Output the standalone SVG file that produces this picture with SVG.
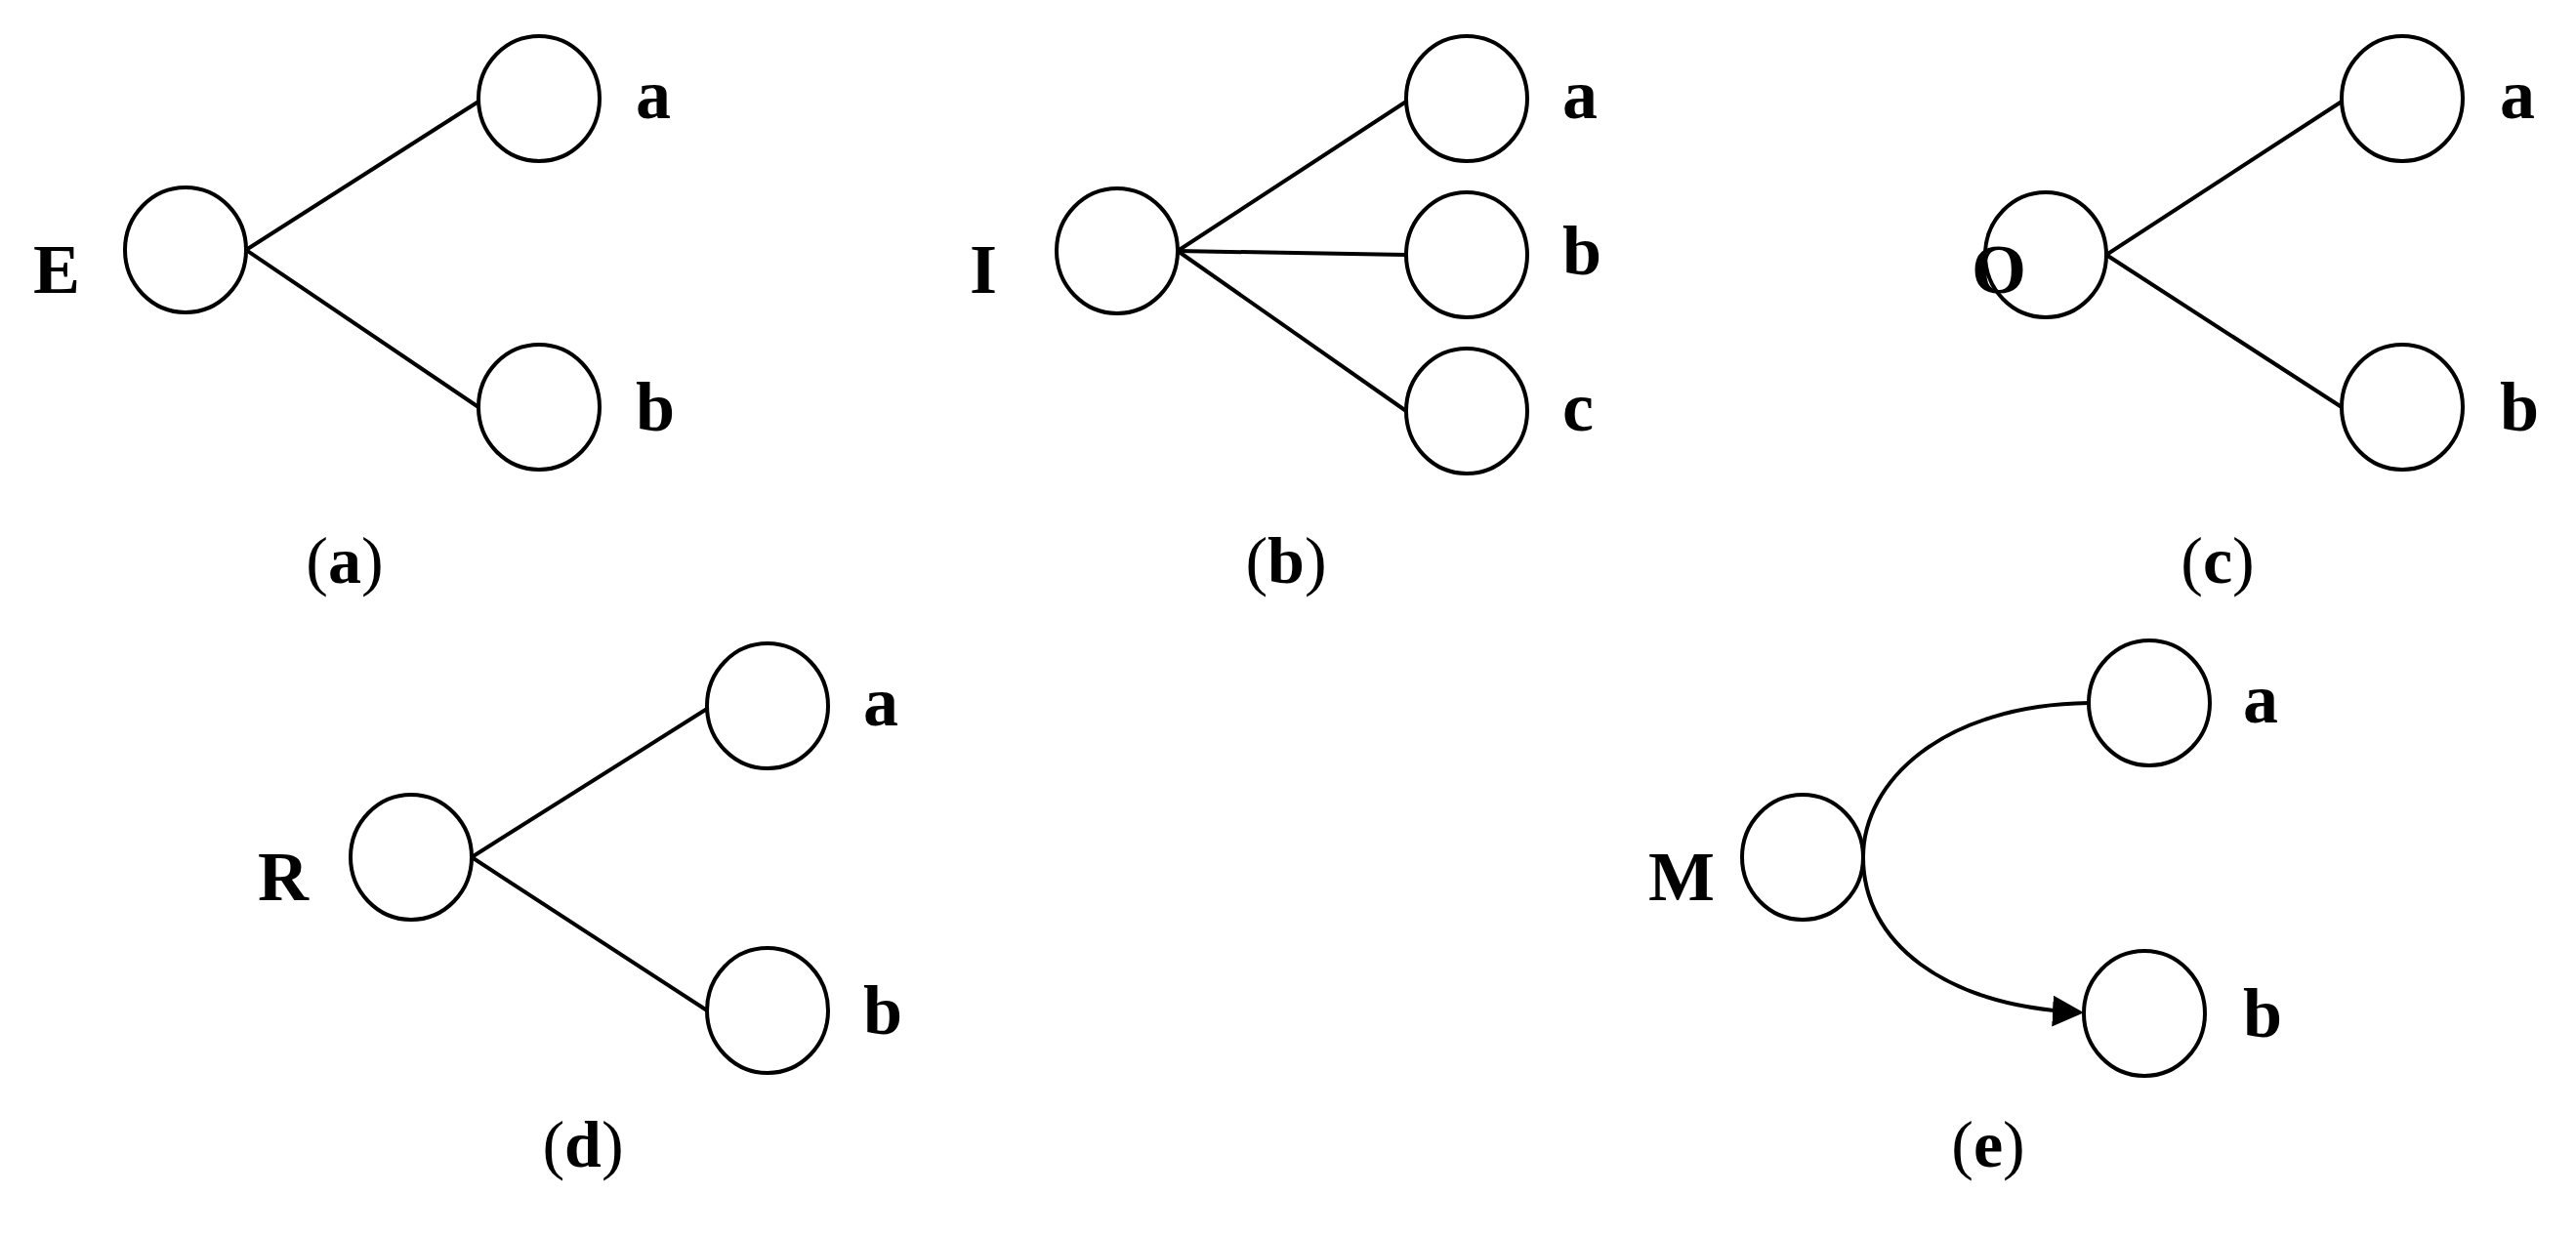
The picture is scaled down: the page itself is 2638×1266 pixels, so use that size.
<svg xmlns="http://www.w3.org/2000/svg" width="2638" height="1266" viewBox="0 0 2638 1266">
<style>
.n{fill:#fff;stroke:#000;stroke-width:4}
.e{stroke:#000;stroke-width:4;fill:none}
.t{font-family:"Liberation Serif",serif;font-weight:bold;font-size:72px;fill:#000}
.c{font-family:"Liberation Serif",serif;font-size:68px;fill:#000;text-anchor:middle}
</style>
<defs><marker id="ar" markerWidth="8" markerHeight="8" refX="7" refY="4" orient="auto" markerUnits="strokeWidth"><path d="M0,0 L8,4 L0,8 Z" fill="#000"/></marker></defs>
<g id="connectors">
<line class="e" x1="252" y1="256" x2="490" y2="104"/>
<line class="e" x1="252" y1="256" x2="490" y2="417"/>
<line class="e" x1="1206" y1="257" x2="1440" y2="104"/>
<line class="e" x1="1206" y1="257" x2="1440" y2="261"/>
<line class="e" x1="1206" y1="257" x2="1440" y2="421"/>
<line class="e" x1="2157" y1="261" x2="2398" y2="104"/>
<line class="e" x1="2157" y1="261" x2="2398" y2="417"/>
<line class="e" x1="483" y1="878" x2="724" y2="726"/>
<line class="e" x1="483" y1="878" x2="724" y2="1035"/>
<path class="e" d="M2139,720 C1990,722 1908,800 1908,878 C1908,965 1990,1030 2130,1037" marker-end="url(#ar)"/>
</g>
<g id="a"><ellipse class="n" cx="190" cy="256" rx="62" ry="64"/><ellipse class="n" cx="552" cy="101" rx="62" ry="64"/><ellipse class="n" cx="552" cy="417" rx="62" ry="64"/>
<text class="t" x="34" y="300">E</text><text class="t" x="651" y="121">a</text><text class="t" x="651" y="441">b</text><text class="c" x="353" y="597">(<tspan font-weight="bold">a</tspan>)</text></g>
<g id="b"><ellipse class="n" cx="1144" cy="257" rx="62" ry="64"/><ellipse class="n" cx="1502" cy="101" rx="62" ry="64"/><ellipse class="n" cx="1502" cy="261" rx="62" ry="64"/><ellipse class="n" cx="1502" cy="421" rx="62" ry="64"/>
<text class="t" x="993" y="300">I</text><text class="t" x="1600" y="121">a</text><text class="t" x="1600" y="281">b</text><text class="t" x="1600" y="441">c</text><text class="c" x="1317" y="597">(<tspan font-weight="bold">b</tspan>)</text></g>
<g id="c"><ellipse class="n" cx="2095" cy="261" rx="62" ry="64"/><ellipse class="n" cx="2460" cy="101" rx="62" ry="64"/><ellipse class="n" cx="2460" cy="417" rx="62" ry="64"/>
<text class="t" x="2019" y="300">O</text><text class="t" x="2560" y="121">a</text><text class="t" x="2560" y="441">b</text><text class="c" x="2271" y="597">(<tspan font-weight="bold">c</tspan>)</text></g>
<g id="d"><ellipse class="n" cx="421" cy="878" rx="62" ry="64"/><ellipse class="n" cx="786" cy="723" rx="62" ry="64"/><ellipse class="n" cx="786" cy="1035" rx="62" ry="64"/>
<text class="t" x="264" y="922">R</text><text class="t" x="884" y="743">a</text><text class="t" x="884" y="1059">b</text><text class="c" x="597" y="1195">(<tspan font-weight="bold">d</tspan>)</text></g>
<g id="e"><ellipse class="n" cx="1846" cy="878" rx="62" ry="64"/><ellipse class="n" cx="2201" cy="720" rx="62" ry="64"/><ellipse class="n" cx="2196" cy="1038" rx="62" ry="64"/>
<text class="t" x="1688" y="922">M</text><text class="t" x="2297" y="740">a</text><text class="t" x="2297" y="1062">b</text><text class="c" x="2036" y="1195">(<tspan font-weight="bold">e</tspan>)</text></g>
</svg>
